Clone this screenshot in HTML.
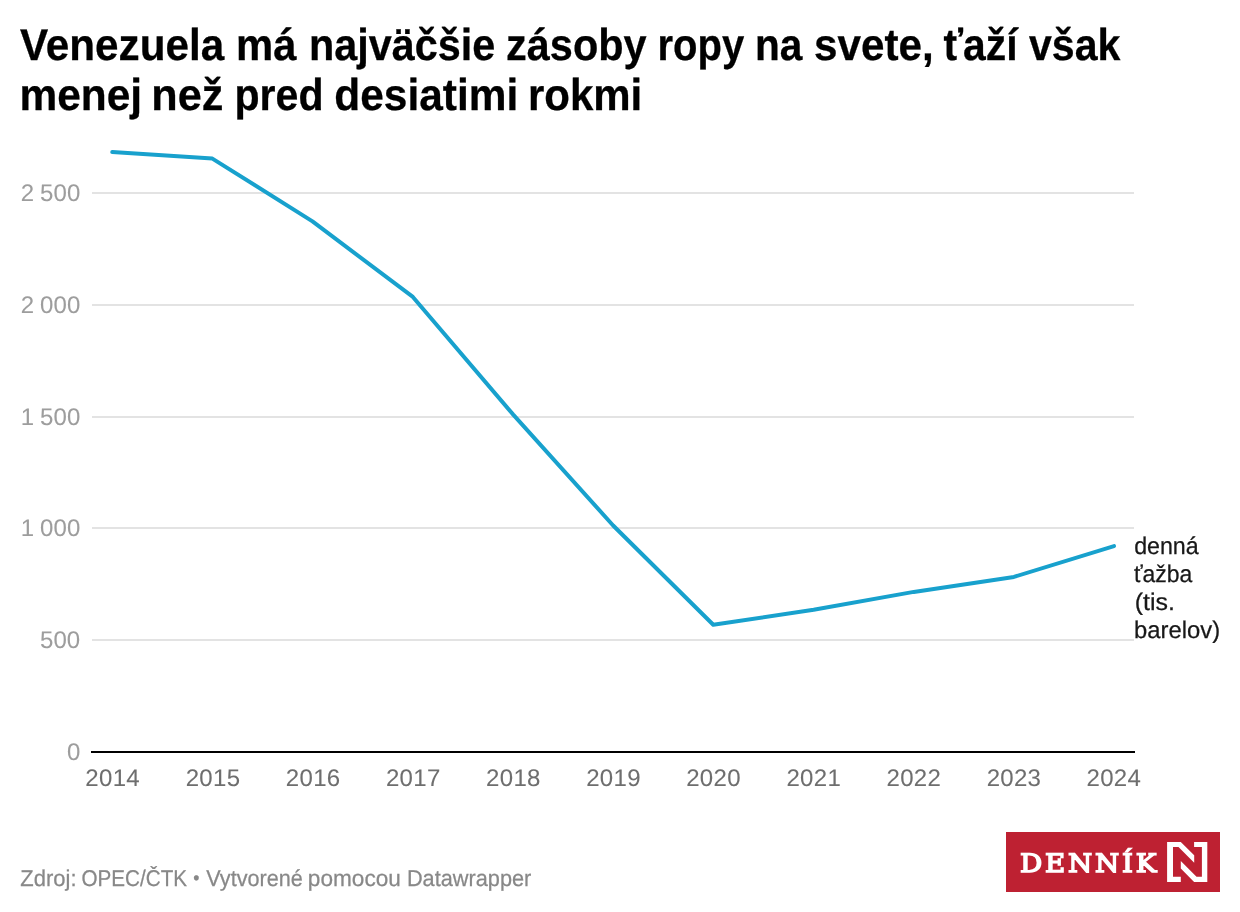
<!DOCTYPE html>
<html lang="sk">
<head>
<meta charset="utf-8">
<title>Venezuela má najväčšie zásoby ropy na svete, ťaží však menej než pred desiatimi rokmi</title>
<style>
html,body{margin:0;padding:0;background:#ffffff;}
body{width:1240px;height:912px;overflow:hidden;font-family:'Liberation Sans', sans-serif;text-rendering:geometricPrecision;}
#chart{position:relative;width:1240px;height:912px;background:#ffffff;overflow:hidden;}
.w,.tick{position:absolute;left:0;top:0;white-space:pre;transform-origin:0 0;display:block;margin:0;padding:0;}
h1.headline{margin:0;padding:0;font-size:44.5px;font-weight:700;line-height:50px;color:#000000;-webkit-text-stroke:0.3px #000000;}
.series{font-size:24px;line-height:28px;color:#181818;-webkit-text-stroke:0.25px #181818;}
.footer{font-size:22.9px;line-height:26px;color:#888888;-webkit-text-stroke:0.25px #888888;}
.tick{font-size:24px;line-height:28px;}
.yaxis{color:#9d9d9d;letter-spacing:0.13px;word-spacing:-0.86px;-webkit-text-stroke:0.08px #9d9d9d;}
.xaxis{color:#6e6e6e;letter-spacing:0.3px;-webkit-text-stroke:0.08px #6e6e6e;}
svg{position:absolute;left:0;top:0;}
.logo{position:absolute;left:1006px;top:832px;width:214px;height:60px;background:#be2132;}
.logo .name{position:absolute;white-space:pre;color:#ffffff;font-family:'DejaVu Serif', 'Liberation Serif', serif;font-weight:400;font-size:25.4px;line-height:36px;-webkit-text-stroke:1.5px #ffffff;transform-origin:0 0;}
</style>
</head>
<body>
<div id="chart">
<h1 class="headline"><span class="w" style="transform:translate(19.96px,21px) scaleX(0.9491)">Venezuela</span> <span class="w" style="transform:translate(236.11px,21px) scaleX(0.9409)">má</span> <span class="w" style="transform:translate(309.04px,21px) scaleX(0.9294)">najväčšie</span> <span class="w" style="transform:translate(506.07px,21px) scaleX(0.9315)">zásoby</span> <span class="w" style="transform:translate(657.43px,21px) scaleX(0.8995)">ropy</span> <span class="w" style="transform:translate(754.89px,21px) scaleX(0.9131)">na</span> <span class="w" style="transform:translate(814.08px,21px) scaleX(0.9487)">svete,</span> <span class="w" style="transform:translate(943.44px,21px) scaleX(0.9178)">ťaží</span> <span class="w" style="transform:translate(1029px,21px) scaleX(0.9229)">však</span> <span class="w" style="transform:translate(19.38px,71px) scaleX(0.9545)">menej</span> <span class="w" style="transform:translate(151.33px,71px) scaleX(0.9714)">než</span> <span class="w" style="transform:translate(234.46px,71px) scaleX(0.9231)">pred</span> <span class="w" style="transform:translate(334.33px,71px) scaleX(0.9535)">desiatimi</span> <span class="w" style="transform:translate(527.9px,71px) scaleX(0.9437)">rokmi</span> </h1>
<svg width="1240" height="912" viewBox="0 0 1240 912" role="img" aria-label="denná ťažba (tis. barelov)">
<rect x="92" y="192" width="1042" height="2" fill="#e3e3e3"/>
<rect x="92" y="304" width="1042" height="2" fill="#e3e3e3"/>
<rect x="92" y="416" width="1042" height="2" fill="#e3e3e3"/>
<rect x="92" y="527" width="1042" height="2" fill="#e3e3e3"/>
<rect x="92" y="639" width="1042" height="2" fill="#e3e3e3"/>
<rect x="91" y="751" width="1044" height="2" fill="#000000"/>
<path d="M112.25,152.08 L212.37,158.57 L312.49,221.4 L412.88,296.97 L513,414.36 L613.12,525.49 L713.25,624.77 L813.64,609.79 L913.76,591.9 L1013.88,576.92 L1114,546.06" fill="none" stroke="#18a1cd" stroke-width="4" stroke-linejoin="round" stroke-linecap="round"/>
</svg>
<div class="yaxis"><span class="tick" style="transform:translate(20.65px,180px)">2 500</span> <span class="tick" style="transform:translate(20.65px,292px)">2 000</span> <span class="tick" style="transform:translate(20.65px,404px)">1 500</span> <span class="tick" style="transform:translate(20.65px,515px)">1 000</span> <span class="tick" style="transform:translate(39.9px,627px)">500</span> <span class="tick" style="transform:translate(66.9px,739px)">0</span> </div>
<div class="xaxis"><span class="tick" style="transform:translate(85.35px,765px)">2014</span> <span class="tick" style="transform:translate(185.72px,765px)">2015</span> <span class="tick" style="transform:translate(285.84px,765px)">2016</span> <span class="tick" style="transform:translate(385.96px,765px)">2017</span> <span class="tick" style="transform:translate(486.08px,765px)">2018</span> <span class="tick" style="transform:translate(586.2px,765px)">2019</span> <span class="tick" style="transform:translate(686.2px,765px)">2020</span> <span class="tick" style="transform:translate(786.44px,765px)">2021</span> <span class="tick" style="transform:translate(886.56px,765px)">2022</span> <span class="tick" style="transform:translate(986.68px,765px)">2023</span> <span class="tick" style="transform:translate(1086.55px,765px)">2024</span> </div>
<div class="series"><span class="w" style="transform:translate(1134.13px,533px) scaleX(0.9673)">denná</span> <span class="w" style="transform:translate(1133.96px,561px) scaleX(0.9574)">ťažba</span> <span class="w" style="transform:translate(1134.8px,589px) scaleX(1.0383)">(tis.</span> <span class="w" style="transform:translate(1134.11px,617px) scaleX(0.9922)">barelov)</span> </div>
<div class="footer"><span class="w" style="transform:translate(20.32px,865px) scaleX(0.9607)">Zdroj:</span> <span class="w" style="transform:translate(81.4px,865px) scaleX(0.9028)">OPEC/ČTK</span> <span class="w" style="font-size:18.5px;transform:translate(193.22px,865px) scaleX(0.9524)">•</span> <span class="w" style="transform:translate(206.2px,865px) scaleX(0.9452)">Vytvorené</span> <span class="w" style="transform:translate(307.87px,865px) scaleX(0.988)">pomocou</span> <span class="w" style="transform:translate(406.94px,865px) scaleX(0.9488)">Datawrapper</span> </div>
<div class="logo">
<span class="name" style="left:13.98px;top:13.1px;letter-spacing:2.551px;transform:scaleX(1.09)">DENNÍK</span>
<svg width="214" height="60" viewBox="1006 832 214 60" aria-hidden="true">
<polygon fill="#ffffff" points="1167.1,841.9 1180.8,841.9 1194.2,855.3 1194.2,862.8 1178.5,847.1 1173,847.1 1173,876.7 1180.8,876.7 1180.8,881.9 1167.1,881.9"/>
<polygon fill="#ffffff" points="1207.3,841.9 1207.3,881.9 1194.1,881.9 1180.8,868.6 1180.8,861 1196.5,876.7 1201.9,876.7 1201.9,847.1 1194.1,847.1 1194.1,841.9"/>
</svg>
</div>
</div>
</body>
</html>
